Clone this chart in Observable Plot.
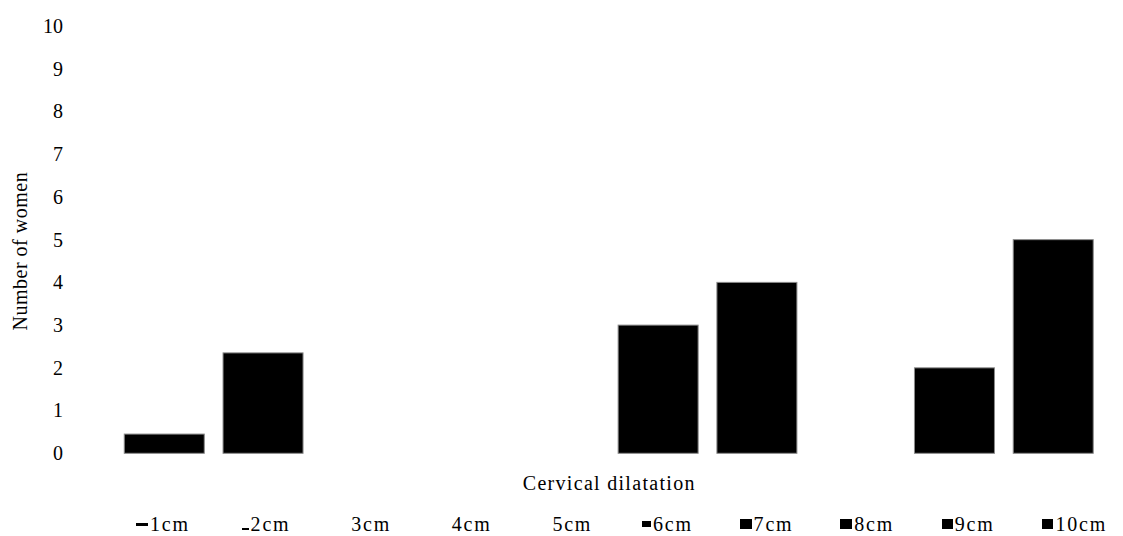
<!DOCTYPE html>
<html><head><meta charset="utf-8">
<script src="https://cdn.jsdelivr.net/npm/d3@7"></script>
<script src="https://cdn.jsdelivr.net/npm/@observablehq/plot@0.6"></script>
<style>
body{margin:0;background:#fff;font-family:"Liberation Serif","Times New Roman",serif;color:#000;}
#legend{position:relative;height:36px;width:1123px;}
.item{position:absolute;top:14px;height:20px;display:flex;align-items:center;font-size:20px;letter-spacing:1.8px;white-space:nowrap;}
.sw{width:14px;height:12px;display:flex;justify-content:flex-end;margin-right:2px;}
.sw span{display:block;background:#000;}
svg text{font-family:"Liberation Serif","Times New Roman",serif;}
</style></head><body><div id="chart"></div><div id="legend"></div>
<script>
const categories = ["1cm","2cm","3cm","4cm","5cm","6cm","7cm","8cm","9cm","10cm"];
const counts = [0.45, 2.35, 0, 0, 0, 3, 4, 0, 2, 5];
const yTicks = [0,1,2,3,4,5,6,7,8,9,10];
const xTitle = "Cervical dilatation";
const yTitle = "Number of women";

// legend swatch appearance (as drawn in the reference)
const swatchShapes = [
  {w:12,h:3,align:"center"},{w:7,h:2,align:"flex-end"},null,null,null,
  {w:9,h:6,align:"center"},{w:12,h:10,align:"center"},{w:12,h:10,align:"center"},
  {w:11,h:10,align:"center"},{w:11,h:10,align:"center"}
];

const data = categories.map((c,i)=>({cat:c, n:counts[i]})).filter(d=>d.n>0);

const chart = Plot.plot({
  width:1123, height:500,
  marginLeft:105.5, marginRight:11, marginTop:26, marginBottom:46.7,
  style:{fontFamily:'"Liberation Serif", "Times New Roman", serif', fontSize:"20px", color:"#000", background:"#fff"},
  x:{domain:categories, padding:0.19, round:false, axis:null},
  y:{domain:[0,10], axis:null},
  marks:[
    Plot.barY(data,{x:"cat", y:"n", fill:"#000", stroke:"#8a8a8a", strokeWidth:1}),
    Plot.axisY(yTicks,{tickSize:0, tickPadding:43, label:null, fontSize:20, tickFormat:d=>String(d)}),
    Plot.text([xTitle],{frameAnchor:"bottom", lineAnchor:"middle", dy:30, fontSize:20, fill:"#000"}),
    Plot.text([yTitle],{frameAnchor:"left", textAnchor:"middle", rotate:-90, dx:-85.5, dy:11, fontSize:20, fill:"#000"})
  ]
});
document.getElementById("chart").appendChild(chart);
d3.select(chart).selectAll('g[aria-label="text"]').each(function(_, i){
  d3.select(this).selectAll("text").style("letter-spacing", i === 0 ? "1.3px" : "0.5px");
});

const legend = d3.select("#legend");
categories.forEach((c,i)=>{
  const it = legend.append("div").attr("class","item").style("left",(134+i*100.6)+"px");
  const sw = it.append("div").attr("class","sw");
  const s = swatchShapes[i];
  if (s) {
    sw.style("align-items", s.align);
    sw.append("span").style("width",s.w+"px").style("height",s.h+"px");
  }
  it.append("span").text(c);
});
</script></body></html>
